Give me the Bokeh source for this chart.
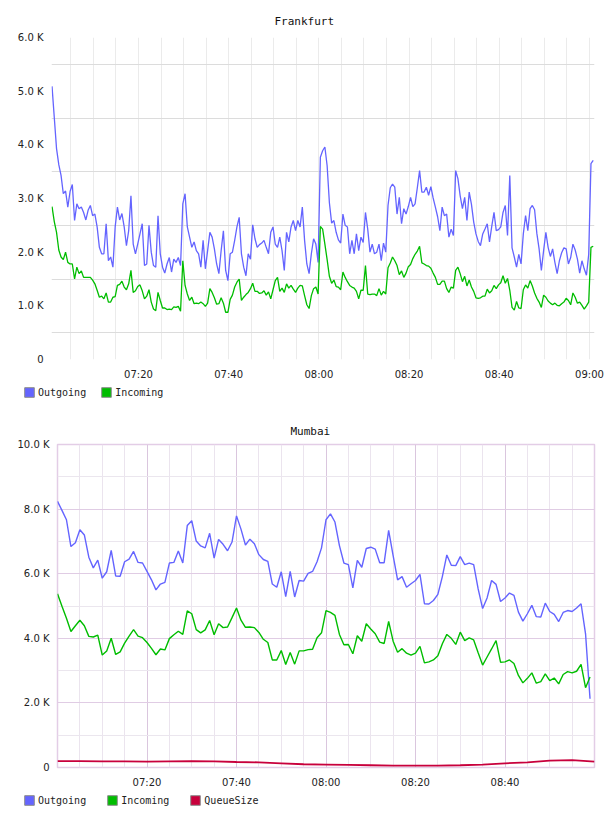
import pandas as pd
from bokeh.plotting import figure
from bokeh.models import (Range1d, FixedTicker, DatetimeTickFormatter, Legend,
                          LegendItem)
from bokeh.embed import file_html
from bokeh.resources import INLINE

DAY = "2024-05-01"

# ---- Frankfurt: 30-second samples, traffic in thousands ----
fra_start = "07:00:50"
fra_outgoing = [
    5.09, 4.51, 3.93, 3.63, 3.43, 3.09, 3.14, 2.84, 3.13, 3.26,
    2.59, 2.90, 2.81, 2.84, 2.74, 2.60, 2.78, 2.87, 2.68, 2.71,
    2.47, 2.09, 1.97, 1.97, 2.53, 1.84, 1.91, 1.72, 2.47, 2.84,
    2.60, 2.72, 2.47, 2.12, 2.40, 3.05, 2.15, 1.97, 2.15, 2.34,
    2.53, 1.75, 1.78, 2.50, 2.00, 1.75, 1.72, 2.68, 1.97, 1.72,
    1.61, 1.78, 1.90, 1.63, 1.87, 1.81, 1.90, 1.75, 2.90, 3.09,
    2.47, 2.28, 2.09, 2.19, 2.03, 1.97, 1.72, 2.22, 1.69, 2.03,
    2.37, 2.28, 2.06, 1.78, 1.60, 2.03, 2.40, 1.66, 1.47, 1.97,
    2.00, 2.22, 2.47, 2.65, 1.97, 1.72, 1.56, 1.97, 1.87, 2.51,
    2.25, 2.09, 2.14, 2.17, 2.22, 2.09, 1.97, 2.37, 2.47, 2.15,
    2.09, 2.28, 2.03, 1.66, 2.37, 2.19, 2.47, 2.59, 2.40, 2.59,
    2.47, 2.84, 2.22, 1.78, 1.60, 1.97, 2.25, 2.15, 1.81, 3.77,
    3.89, 3.96, 3.61, 2.92, 2.54, 2.59, 2.37, 2.23, 2.17, 2.71,
    2.50, 2.47, 1.97, 2.22, 1.97, 2.34, 2.03, 2.28, 2.18, 2.74,
    2.43, 2.00, 2.15, 1.97, 2.00, 2.15, 1.84, 2.17, 2.00, 2.87,
    3.20, 3.27, 3.21, 2.71, 3.02, 2.53, 2.81, 2.71, 2.85, 3.02,
    2.85, 2.90, 3.20, 3.52, 3.12, 3.12, 3.21, 3.06, 3.22, 3.01,
    2.84, 2.66, 2.40, 2.84, 2.68, 2.71, 2.28, 2.43, 2.31, 3.52,
    3.37, 3.05, 2.81, 3.02, 2.59, 3.12, 2.89, 2.56, 2.34, 2.20,
    2.12, 2.34, 2.43, 2.53, 2.19, 2.48, 2.74, 2.40, 2.42, 2.47,
    2.74, 2.87, 2.31, 3.43, 2.08, 1.91, 1.72, 1.96, 1.78, 2.34,
    2.68, 2.40, 2.81, 2.87, 2.79, 2.35, 2.06, 1.66, 2.03, 2.37,
    2.09, 1.92, 2.06, 1.81, 1.60, 1.84, 1.99, 2.08, 2.06, 1.78,
    1.90, 2.15, 2.04, 1.87, 1.61, 1.84, 1.69, 1.57, 1.96, 3.65,
    3.71,
]
fra_incoming = [
    2.85, 2.57, 2.37, 2.04, 1.91, 1.86, 2.00, 1.81, 1.78, 1.78,
    1.50, 1.72, 1.60, 1.65, 1.53, 1.53, 1.53, 1.53, 1.48, 1.41,
    1.29, 1.16, 1.18, 1.13, 1.24, 1.07, 1.07, 1.16, 1.17, 1.38,
    1.40, 1.46, 1.35, 1.30, 1.41, 1.66, 1.25, 1.28, 1.36, 1.39,
    1.28, 1.13, 1.18, 1.30, 1.07, 0.94, 0.91, 1.25, 1.10, 0.96,
    0.96, 0.93, 0.94, 0.93, 0.98, 0.97, 0.99, 0.90, 1.84, 1.38,
    1.22, 1.10, 1.16, 1.04, 1.05, 1.04, 1.07, 1.04, 0.99, 1.05,
    1.32, 1.25, 1.15, 1.03, 1.04, 1.15, 1.05, 0.88, 0.88, 1.12,
    1.20, 1.35, 1.44, 1.50, 1.10, 1.16, 1.21, 1.25, 1.32, 1.42,
    1.27, 1.27, 1.23, 1.24, 1.28, 1.20, 1.26, 1.13, 1.30, 1.47,
    1.53, 1.27, 1.33, 1.25, 1.41, 1.33, 1.38, 1.31, 1.25, 1.33,
    1.38, 1.37, 1.19, 1.02, 0.95, 1.19, 1.32, 1.35, 1.22, 2.48,
    2.43, 2.15, 1.86, 1.55, 1.42, 1.48, 1.36, 1.35, 1.30, 1.63,
    1.53, 1.45, 1.38, 1.35, 1.33, 1.27, 1.13, 1.29, 1.29, 1.75,
    1.22, 1.21, 1.22, 1.22, 1.19, 1.32, 1.20, 1.27, 1.22, 1.71,
    1.80, 1.91, 1.84, 1.75, 1.58, 1.65, 1.53, 1.61, 1.73, 1.77,
    1.88, 1.96, 2.02, 2.11, 1.80, 1.78, 1.75, 1.74, 1.70, 1.61,
    1.53, 1.40, 1.40, 1.46, 1.46, 1.32, 1.25, 1.35, 1.33, 1.66,
    1.72, 1.60, 1.45, 1.55, 1.37, 1.48, 1.35, 1.27, 1.15, 1.14,
    1.15, 1.18, 1.18, 1.31, 1.24, 1.28, 1.38, 1.32, 1.39, 1.43,
    1.56, 1.42, 1.51, 1.29, 0.97, 0.92, 1.08, 0.96, 0.95, 1.30,
    1.39, 1.33, 1.47, 1.37, 1.24, 1.14, 1.07, 0.97, 1.20, 1.16,
    1.09, 1.05, 1.02, 1.05, 1.01, 1.00, 1.04, 1.07, 1.14, 1.10,
    1.02, 1.24, 1.16, 1.05, 1.07, 1.01, 0.94, 1.00, 1.07, 2.09,
    2.11,
]

# ---- Mumbai: one-minute samples, traffic in thousands ----
mum_start = "07:00:00"
mum_outgoing = [
    8.24, 7.96, 7.67, 6.84, 6.96, 7.36, 7.20, 6.51, 6.18, 6.42,
    5.86, 6.06, 6.72, 5.93, 5.92, 6.37, 6.45, 6.69, 6.35, 6.33,
    6.07, 5.81, 5.50, 5.68, 5.73, 6.33, 6.35, 6.70, 6.33, 7.49,
    7.64, 7.01, 6.86, 6.80, 7.25, 6.48, 7.06, 6.91, 6.71, 6.98,
    7.79, 7.38, 6.89, 7.07, 6.93, 6.59, 6.44, 6.38, 5.68, 5.58,
    6.06, 5.29, 6.07, 5.28, 5.79, 5.77, 6.01, 6.07, 6.37, 6.80,
    7.67, 7.85, 7.60, 6.87, 6.33, 6.28, 5.56, 6.41, 6.20, 6.78,
    6.82, 6.76, 6.34, 6.34, 7.34, 6.56, 5.81, 5.91, 5.58, 5.69,
    5.79, 5.98, 5.07, 5.06, 5.17, 5.36, 5.91, 6.58, 6.26, 6.25,
    6.53, 6.28, 6.33, 6.28, 5.53, 4.92, 5.25, 5.79, 5.67, 5.14,
    5.25, 5.40, 5.33, 4.81, 4.53, 4.76, 5.02, 4.67, 4.66, 5.09,
    4.83, 4.74, 4.52, 4.80, 4.86, 4.83, 4.94, 5.07, 4.14, 2.13,
]
mum_incoming = [
    5.38, 4.99, 4.62, 4.21, 4.39, 4.56, 4.39, 4.06, 4.04, 4.10,
    3.48, 3.61, 4.00, 3.50, 3.58, 3.85, 4.07, 4.27, 4.07, 4.02,
    3.87, 3.69, 3.49, 3.67, 3.64, 3.99, 4.11, 4.22, 4.12, 4.85,
    4.76, 4.27, 4.17, 4.26, 4.55, 4.11, 4.45, 4.33, 4.35, 4.64,
    4.94, 4.56, 4.34, 4.35, 4.33, 4.18, 3.97, 3.87, 3.33, 3.33,
    3.62, 3.19, 3.56, 3.20, 3.61, 3.61, 3.65, 3.66, 4.02, 4.17,
    4.86, 4.80, 4.71, 4.12, 3.80, 3.81, 3.52, 4.08, 3.91, 4.45,
    4.29, 4.14, 3.88, 3.84, 4.52, 3.91, 3.57, 3.68, 3.54, 3.48,
    3.54, 3.75, 3.24, 3.27, 3.33, 3.46, 3.83, 4.12, 4.00, 3.81,
    4.19, 3.93, 4.01, 3.95, 3.55, 3.17, 3.42, 3.67, 3.93, 3.26,
    3.27, 3.33, 3.22, 2.85, 2.62, 2.76, 2.93, 2.61, 2.66, 2.90,
    2.69, 2.77, 2.59, 2.88, 2.97, 2.93, 2.98, 3.19, 2.47, 2.80,
]
# queue size, sampled every five minutes
mum_queue = [
    0.20, 0.20, 0.19, 0.19, 0.18, 0.19, 0.20, 0.19, 0.17, 0.16,
    0.13, 0.10, 0.09, 0.08, 0.07, 0.06, 0.06, 0.06, 0.07, 0.09,
    0.13, 0.16, 0.21, 0.23, 0.18,
]

fra_y_ticks = [0, 1, 2, 3, 4, 5, 6]
fra_y_labels = ["0", "1.0 K", "2.0 K", "3.0 K", "4.0 K", "5.0 K", "6.0 K"]
fra_x_labels = ["07:20", "07:40", "08:00", "08:20", "08:40", "09:00"]
mum_y_ticks = [0, 2, 4, 6, 8, 10]
mum_y_labels = ["0", "2.0 K", "4.0 K", "6.0 K", "8.0 K", "10.0 K"]
mum_x_labels = ["07:20", "07:40", "08:00", "08:20", "08:40"]

BLUE = "#6464ff"
GREEN = "#00bd00"
RED = "#c8003c"
TEXT = "#222222"
MONO = "DejaVu Sans Mono"
SANS = "DejaVu Sans"
WIDTH = 608


def ts(hms):
    return pd.Timestamp(f"{DAY} {hms}")


def ms(hms):
    return ts(hms).timestamp() * 1000.0


fra_time = pd.date_range(ts(fra_start), periods=len(fra_outgoing), freq="30s")
mum_time = pd.date_range(ts(mum_start), periods=len(mum_outgoing), freq="1min")
queue_time = pd.date_range(ts(mum_start), periods=len(mum_queue), freq="5min")

five_min = pd.date_range(ts("07:05"), ts("09:00"), freq="5min")
hhmm = DatetimeTickFormatter(minutes="%H:%M", hourmin="%H:%M", hours="%H:%M",
                             minsec="%H:%M", seconds="%H:%M")


def style_axes(p, title_standoff):
    for ax in (p.xaxis, p.yaxis):
        ax.axis_line_color = None
        ax.major_tick_line_color = None
        ax.minor_tick_line_color = None
        ax.major_tick_out = 0
        ax.major_tick_in = 0
        ax.major_label_text_font = SANS
        ax.major_label_text_font_size = "10px"
        ax.major_label_text_color = TEXT
    p.xaxis.major_label_standoff = 9
    p.yaxis.major_label_standoff = 8
    p.title.text_font = MONO
    p.title.text_font_size = "11px"
    p.title.text_font_style = "normal"
    p.title.text_color = "#111111"
    p.title.align = "left"
    p.title.standoff = title_standoff


def legend_strip(entries, spacing):
    """A thin, axis-less strip that carries a horizontal legend with square keys."""
    s = figure(width=WIDTH, height=16, x_range=Range1d(0, WIDTH),
               y_range=Range1d(0, 16), x_axis_location=None,
               y_axis_location=None, min_border=0, outline_line_color=None,
               output_backend="svg", toolbar_location=None)
    s.grid.visible = False
    items = []
    for label, color in entries:
        key = s.rect(x=[0], y=[0], width=1, height=1, fill_color=color,
                     line_color="#8c8c8c", line_width=1)
        key.visible = False
        items.append(LegendItem(label=label, renderers=[key]))
    legend = Legend(items=items, orientation="horizontal", location=(23, 2),
                    glyph_width=12, glyph_height=12, label_height=12,
                    label_standoff=3, spacing=spacing, padding=0, margin=0,
                    border_line_color=None, background_fill_alpha=0,
                    label_text_font=MONO, label_text_font_size="10px",
                    label_text_color=TEXT)
    s.add_layout(legend)
    return s


# ---- Frankfurt chart ----
p1 = figure(width=WIDTH, height=384, title="Frankfurt", x_axis_type="datetime",
            x_range=Range1d(ms("07:00:43"), ms("09:01:07")),
            y_range=Range1d(0, 6),
            min_border_left=51, min_border_right=14,
            min_border_top=37, min_border_bottom=25,
            output_backend="svg", toolbar_location=None)
p1.outline_line_color = None
style_axes(p1, 19)
p1.title.offset = 223

p1.xaxis.ticker = FixedTicker(ticks=[ms(t) for t in fra_x_labels])
p1.xaxis.formatter = hhmm
p1.xgrid.ticker = FixedTicker(ticks=[t.timestamp() * 1000.0 for t in five_min])
p1.xgrid.grid_line_color = "#ebebeb"
p1.yaxis.ticker = FixedTicker(ticks=fra_y_ticks)
p1.yaxis.major_label_overrides = dict(zip(fra_y_ticks, fra_y_labels))
p1.ygrid.ticker = FixedTicker(ticks=[v + 0.5 for v in fra_y_ticks[:-1]])
p1.ygrid.grid_line_color = "#dcdcdc"

p1.line(fra_time, fra_outgoing, line_color=BLUE, line_width=1.3)
p1.line(fra_time, fra_incoming, line_color=GREEN, line_width=1.3)
leg1 = legend_strip([("Outgoing", BLUE), ("Incoming", GREEN)], spacing=14)

# ---- Mumbai chart ----
p2 = figure(width=WIDTH, height=392, title="Mumbai", x_axis_type="datetime",
            x_range=Range1d(ms("07:00:00"), ms("09:00:00")),
            y_range=Range1d(0, 10),
            min_border_left=57, min_border_right=14,
            min_border_top=44, min_border_bottom=25,
            output_backend="svg", toolbar_location=None)
p2.outline_line_color = "#e3cde6"
p2.outline_line_width = 1.5
style_axes(p2, 14)
p2.title.offset = 233

major_x = [ms(t) for t in mum_x_labels]
minor_x = [t.timestamp() * 1000.0 for t in five_min
           if t.timestamp() * 1000.0 not in major_x and t < ts("09:00")]
p2.xaxis.ticker = FixedTicker(ticks=major_x)
p2.xaxis.formatter = hhmm
p2.xgrid.ticker = FixedTicker(ticks=major_x, minor_ticks=minor_x)
p2.xgrid.grid_line_color = "#dac6de"
p2.xgrid.minor_grid_line_color = "#ebe4ee"
p2.yaxis.ticker = FixedTicker(ticks=mum_y_ticks)
p2.yaxis.major_label_overrides = dict(zip(mum_y_ticks, mum_y_labels))
p2.ygrid.ticker = FixedTicker(ticks=mum_y_ticks[1:-1],
                              minor_ticks=[v + 1 for v in mum_y_ticks[:-1]])
p2.ygrid.grid_line_color = "#e0cce4"
p2.ygrid.minor_grid_line_color = "#ebe6ee"

p2.line(mum_time, mum_outgoing, line_color=BLUE, line_width=1.4)
p2.line(mum_time, mum_incoming, line_color=GREEN, line_width=1.4)
p2.line(queue_time, mum_queue, line_color=RED, line_width=1.8)
leg2 = legend_strip([("Outgoing", BLUE), ("Incoming", GREEN),
                     ("QueueSize", RED)], spacing=20)

# each panel is its own root so the two charts keep independent frame edges
open("out.html", "w").write(file_html([p1, leg1, p2, leg2], INLINE))
